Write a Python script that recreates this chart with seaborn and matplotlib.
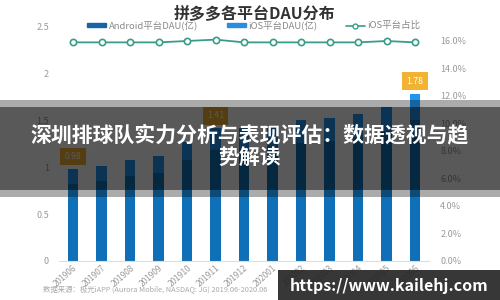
import numpy as np
import pandas as pd
import matplotlib
matplotlib.use("Agg")
import matplotlib.pyplot as plt
from matplotlib.patches import Patch, Rectangle
from matplotlib.lines import Line2D
import seaborn as sns

months = ['201906', '201907', '201908', '201909', '201910', '201911', '201912',
          '202001', '202002', '202003', '202004', '202005', '202006']
android_dau = [0.82, 0.85, 0.90, 0.94, 1.07, 1.18, 1.19, 1.22, 1.26, 1.28, 1.31, 1.38, 1.50]
ios_dau = [0.16, 0.16, 0.17, 0.18, 0.20, 0.23, 0.23, 0.23, 0.24, 0.24, 0.25, 0.26, 0.28]
ios_share = [15.9, 15.9, 15.9, 15.9, 16.0, 16.1, 15.9, 15.9, 15.9, 15.9, 15.9, 16.0, 15.9]
label_months = ['201906', '201911', '202006']
left_ticks = [0, 0.5, 1, 1.5, 2, 2.5]
right_ticks = [0, 2, 4, 6, 8, 10, 12, 14, 16]

title = '拼多多各平台DAU分布'
overlay_title = '深圳排球队实力分析与表现评估：数据透视与趋\n势解读'
source = '数据来源：极光iAPP (Aurora Mobile, NASDAQ: JG) 2019.06-2020.06'
watermark = 'https://www.kailehj.com'

sns.set_theme(style='white')
plt.rcParams['font.family'] = ['Noto Sans CJK SC', 'DejaVu Sans']

df = pd.DataFrame({'month': months, 'android': android_dau, 'ios': ios_dau, 'share': ios_share})
df['total'] = df['android'] + df['ios']

c_android = '#0f70b7'
c_ios = '#2196f0'
c_line = '#3a9c8a'
grey = '#9a9a9a'

fig = plt.figure(figsize=(5, 3), dpi=100)
ax = fig.add_axes([0.1175, 0.13, 0.741, 0.7833])

sns.barplot(data=df, x='month', y='total', color=c_ios, width=0.36, saturation=1,
            linewidth=0, ax=ax)
sns.barplot(data=df, x='month', y='android', color=c_android, width=0.36, saturation=1,
            linewidth=0, ax=ax)
ax.set_ylim(0, 2.5)
ax.set_xlim(-0.5, len(months) - 0.5)
ax.set_yticks(left_ticks)
ax.set_yticklabels([f'{t:g}' for t in left_ticks])
ax.set_xlabel('')
ax.set_ylabel('')
ax.tick_params(axis='y', length=0, pad=7, labelsize=6.5, labelcolor=grey)
ax.tick_params(axis='x', length=0, pad=2, labelsize=6, labelcolor=grey)
plt.setp(ax.get_xticklabels(), rotation=42, ha='right', rotation_mode='anchor')
for s in ['top', 'right', 'left']:
    ax.spines[s].set_visible(False)
ax.spines['bottom'].set_color('#dddddd')
ax.spines['bottom'].set_linewidth(0.8)

for m in label_months:
    i = months.index(m)
    v = df['total'].iloc[i]
    ax.annotate(f'{v:.2f}', xy=(i, v), xytext=(0, 9), textcoords='offset points',
                ha='center', va='center', fontsize=6.3, color='white',
                bbox=dict(boxstyle='square,pad=0.5', fc='#f2b233', ec='none'))

ax2 = ax.twinx()
sns.pointplot(data=df, x='month', y='share', color=c_line, markers='o',
              markersize=4.5, linewidth=1.3, ax=ax2)
for ln in ax2.lines:
    ln.set_markerfacecolor('white')
    ln.set_markeredgecolor(c_line)
    ln.set_markeredgewidth(1.2)
ax2.set_ylim(0, 17.09)
ax2.set_xlim(-0.5, len(months) - 0.5)
ax2.set_yticks(right_ticks)
ax2.set_yticklabels([f'{t:.1f}%' for t in right_ticks])
ax2.set_ylabel('')
ax2.tick_params(axis='y', length=0, pad=8, labelsize=6.5, labelcolor=grey)
for s in ax2.spines.values():
    s.set_visible(False)

fig.text(0.508, 0.955, title, ha='center', va='center', fontsize=11.5,
         fontweight='bold', color='#333333')

handles = [Patch(color='#1565a8'), Patch(color='#2a8ee0'),
           Line2D([0], [0], color=c_line, marker='o', markerfacecolor='white',
                  markeredgecolor=c_line, markersize=3.5, linewidth=1.2)]
labels = ['Android平台DAU(亿)', 'iOS平台DAU(亿)', 'iOS平台占比']
fig.legend(handles, labels, loc='center', bbox_to_anchor=(0.508, 0.915), ncol=3,
           frameon=False, fontsize=6.8, labelcolor='#888888', handlelength=2.0,
           handleheight=0.4, columnspacing=3.0, handletextpad=0.3)

fig.text(0.086, 0.033, source, ha='left', va='center', fontsize=5.3,
         style='italic', color='#aaaaaa')

# overlay band
fig.patches.append(Rectangle((0, 1 - 197 / 300), 1, 97 / 300, transform=fig.transFigure,
                             fc='black', alpha=0.33, ec='none', zorder=10))
fig.patches.append(Rectangle((0, 1 - 190 / 300), 1, 83 / 300, transform=fig.transFigure,
                             fc='black', alpha=0.48, ec='none', zorder=11))
fig.text(0.5, 1 - 146 / 300, overlay_title, ha='center', va='center', fontsize=15,
         fontweight='bold', color='white', linespacing=1.1, zorder=12)

fig.patches.append(Rectangle((278 / 500, 0), 222 / 500, 30 / 300, transform=fig.transFigure,
                             fc='#262626', alpha=0.92, ec='none', zorder=10))
fig.text(0.778, 0.047, watermark, ha='center', va='center', fontsize=11.5,
         fontweight='bold', color='white', zorder=12)

fig.savefig('out.png', dpi=100)
